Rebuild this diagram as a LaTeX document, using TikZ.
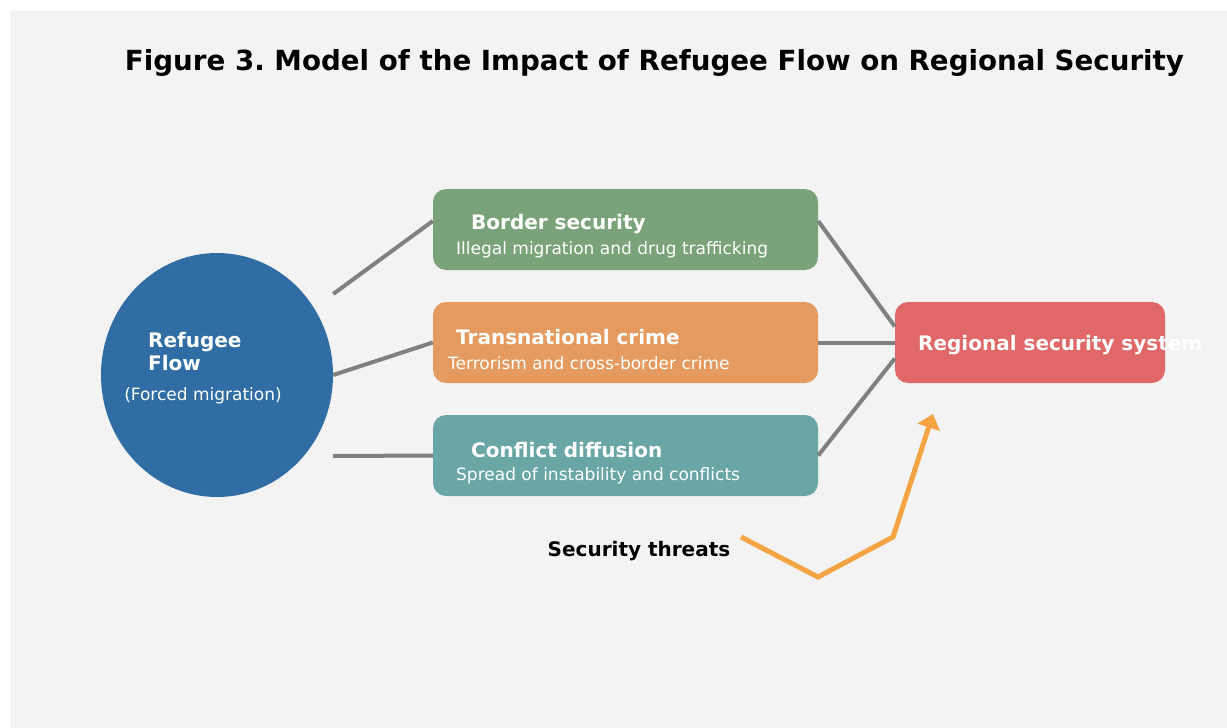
\documentclass[tikz,border=0pt]{standalone}
\usepackage{fontspec}
\setmainfont{DejaVu Sans}
\usetikzlibrary{shapes.geometric,arrows.meta}
\definecolor{bgcol}{HTML}{F3F3F3}
\definecolor{flowcol}{HTML}{2F6DA4}
\definecolor{bordercol}{HTML}{7BA37A}
\definecolor{crimecol}{HTML}{E59B5F}
\definecolor{diffcol}{HTML}{6AA6A6}
\definecolor{regioncol}{HTML}{E06868}
\definecolor{threatcol}{HTML}{F4A442}
\definecolor{linkcol}{HTML}{808080}
\frenchspacing

\begin{document}
\begin{tikzpicture}[x=1pt,y=-1pt]
                      \tikzstyle{box}=[rectangle,rounded corners=13pt,inner sep=0pt,minimum width=385pt,minimum height=81pt]
                      \tikzstyle{head}=[anchor=west,text=white,inner sep=0pt,font=\fontsize{20}{23}\selectfont\bfseries]
                      \tikzstyle{sub}=[anchor=west,text=white,inner sep=0pt,font=\fontsize{17}{20}\selectfont]
                      \tikzstyle{link}=[draw=linkcol,line width=4pt]
                      \useasboundingbox (0,0) rectangle (1227,728);
                      \fill[bgcol] (10,11) rectangle (1227,728);
                      \node (title) at (654.5,63) [font=\fontsize{27.7}{32}\selectfont\bfseries] {Figure 3. Model of the Impact of Refugee Flow on Regional Security};
                      \node (flow) at (217,375) [ellipse,fill=flowcol,inner sep=0pt,minimum width=232pt,minimum height=244pt] {};
                      \node (flowhead) at (148,351.5) [head,align=left] {Refugee\\Flow};
                      \node (flowsub) at (203,396) [sub,anchor=center] {(Forced migration)};
                      \node (border) at (625.5,229.5) [box,fill=bordercol] {};
                      \node (crime) at (625.5,342.5) [box,fill=crimecol] {};
                      \node (diff) at (625.5,455.5) [box,fill=diffcol] {};
                      \node (region) at (1030,342.5) [box,fill=regioncol,minimum width=270pt] {};
                      \node (borderhead) at (471,224) [head] {Border security};
                      \node (bordersub) at (456,250) [sub] {Illegal migration and drug trafficking};
                      \node (crimehead) at (456,337) [head] {Transnational crime};
                      \node (crimesub) at (448,363) [sub] {Terrorism and cross-border crime};
                      \node (diffhead) at (471,450) [head] {Conflict diffusion};
                      \node (diffsub) at (456,476) [sub] {Spread of instability and conflicts};
                      \node (regionhead) at (918,345) [head] {Regional security system};
                      \draw[link] ([yshift=81pt]flow.east) -- ([yshift=8.5pt]border.west);
                      \draw[link] (flow.east) -- (crime.west);
                      \draw[link] ([yshift=-81pt]flow.east) -- (diff.west);
                      \draw[link] ([yshift=8.5pt]border.east) -- ([yshift=16pt]region.west);
                      \draw[link] (crime.east) -- (region.west);
                      \draw[link] (diff.east) -- ([yshift=-16pt]region.west);
                      \node (threats) at (639,551) [font=\fontsize{20}{23}\selectfont\bfseries] {Security threats};
                      \coordinate (t1) at (741,537);
                      \coordinate (t2) at (818,577);
                      \coordinate (t3) at (893,537);
                      \coordinate (t4) at (933,414);
                      \draw[threatcol,line width=5pt,-{Triangle[width=23pt,length=14pt]}] (t1) -- (t2) -- (t3) -- (t4);
                  \end{tikzpicture}
\end{document}
